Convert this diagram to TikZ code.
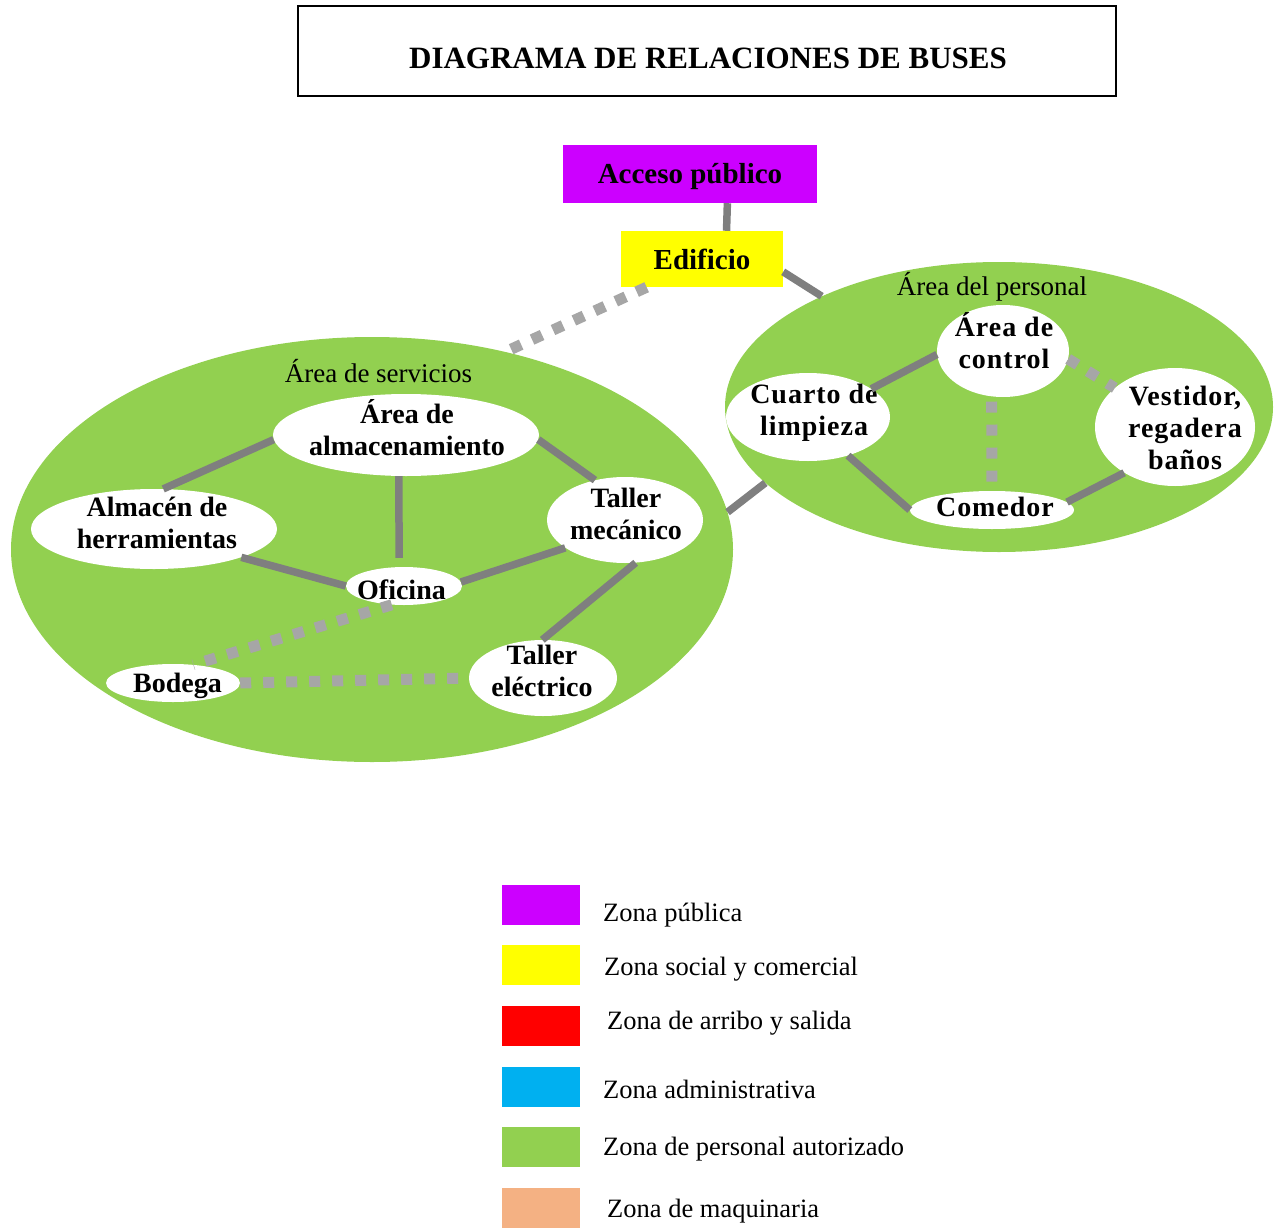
\documentclass[tikz,border=0pt]{standalone}
\usepackage{fontspec}
\setmainfont{Liberation Serif}
\newfontfamily\spacedfont[LetterSpace=3.5]{Liberation Serif}
\usetikzlibrary{shapes.geometric}
\definecolor{zpub}{HTML}{CC00FF}
\definecolor{zsoc}{HTML}{FFFF00}
\definecolor{zarr}{HTML}{FF0000}
\definecolor{zadm}{HTML}{00B0F0}
\definecolor{zper}{HTML}{92D050}
\definecolor{zmaq}{HTML}{F4B183}
\definecolor{cgray}{HTML}{7F7F7F}
\definecolor{dgray}{HTML}{A6A6A6}
\begin{document}
\begin{tikzpicture}[x=1pt,y=-1pt,
  conn/.style={draw=cgray, line width=7.5pt},
  dots/.style={draw=dgray, line width=11pt, dash pattern=on 11pt off 12pt},
  zone/.style={ellipse, fill=zper, inner sep=0pt},
  wnode/.style={ellipse, fill=white, inner sep=0pt},
  lbl/.style={font=\bfseries\fontsize{28}{32}\selectfont, align=center, inner sep=0pt},
  slbl/.style={font=\spacedfont\bfseries\fontsize{28}{32}\selectfont, align=center, inner sep=0pt},
  zlbl/.style={font=\fontsize{27}{31}\selectfont, inner sep=0pt},
  leg/.style={minimum width=78pt, minimum height=40pt, inner sep=0pt},
  legt/.style={font=\fontsize{26.5}{30}\selectfont, anchor=base west, inner sep=0pt}]
\useasboundingbox (0,0) rectangle (1274,1228);

% title
\node[draw, line width=1.5pt, minimum width=818pt, minimum height=90pt, inner sep=0pt] (tbox) at (707,51) {};
\node[font=\bfseries\fontsize{31}{36}\selectfont, inner sep=0pt] (title) at (708,58) {DIAGRAMA DE RELACIONES DE BUSES};

% top boxes
\node[fill=zpub, minimum width=254pt, minimum height=58pt, inner sep=0pt] (acc) at (690,174) {};
\node[font=\bfseries\fontsize{29}{33}\selectfont, inner sep=0pt] (accT) at (690,177) {Acceso público};
\node[fill=zsoc, minimum width=162pt, minimum height=56pt, inner sep=0pt, font=\bfseries\fontsize{29}{33}\selectfont] (edif) at (702,259) {Edificio};

% zones
\node[zone, minimum width=722pt, minimum height=425pt] (serv) at (372,549.5) {};
\node[zone, minimum width=548pt, minimum height=290pt] (pers) at (999,407) {};
\node[zlbl] (servT) at (378.5,371) {Área de servicios};
\node[zlbl] (persT) at (992,286.5) {Área del personal};

% service nodes
\node[wnode, minimum width=266pt, minimum height=82pt] (alm) at (406,435) {};
\node[wnode, minimum width=246pt, minimum height=80pt] (almh) at (154,529) {};
\node[wnode, minimum width=156pt, minimum height=86pt] (tmec) at (625,520) {};
\node[wnode, minimum width=116pt, minimum height=38pt] (ofi) at (404,586) {};
\node[wnode, minimum width=134pt, minimum height=38pt] (bod) at (173,683) {};
\node[wnode, minimum width=148pt, minimum height=76pt] (tele) at (543,678) {};

\node[lbl] (almT) at (407,428) {Área de\\almacenamiento};
\node[lbl] (almhT) at (157,523) {Almacén de\\herramientas};
\node[lbl] (tmecT) at (626,514) {Taller\\mecánico};
\node[lbl] (ofiT) at (401.5,589.5) {Oficina};
\node[lbl] (bodT) at (177.5,685.5) {Bodega};
\node[lbl] (teleT) at (542,670.5) {Taller\\eléctrico};

% personal nodes
\node[wnode, minimum width=132pt, minimum height=92pt] (ctl) at (1003,351) {};
\node[wnode, minimum width=164pt, minimum height=88pt] (cua) at (808,417) {};
\node[wnode, minimum width=160pt, minimum height=118pt] (ves) at (1175,427) {};
\node[wnode, minimum width=164pt, minimum height=38pt] (com) at (992,510) {};

\node[slbl] (ctlT) at (1004,341) {Área de\\control};
\node[slbl] (cuaT) at (814,412.5) {Cuarto de\\limpieza};
\node[slbl] (vesT) at (1185,427.5) {Vestidor,\\regadera\\baños};
\node[slbl] (comT) at (995,507) {Comedor};

% connectors
\draw[conn] (acc.-38.9) -- (edif.49.4);
\draw[conn] (edif.-9.1) -- (pers.148.9);
\draw[dots] (edif.207.4) -- (serv.56);
\draw[conn] (serv.6.9) -- (pers.198.07);

\draw[conn] (alm.182.6) -- (almh.77.6);
\draw[conn, shorten >=9pt] (alm.260.3) -- (ofi.104.7);
\draw[conn] (alm.-2.1) -- (tmec.127.1);
\draw[conn] (almh.-18.2) -- (ofi.180);
\draw[conn] (ofi.4.8) -- (tmec.205.5);
\draw[conn] (tmec.-76.8) -- (tele.91.4);
\draw[dots] (ofi.237.7) -- (bod.42.6);
\draw[dots] (bod.east) -- (tele.west);

\draw[conn] (cua.24.7) -- (ctl.183.5);
\draw[dots, shorten <=5pt, shorten >=4pt] (ctl.256.6) -- (com.90);
\draw[dots] (ctl.-7.65) -- (ves.147);
\draw[conn] (cua.-44.3) -- (com.180);
\draw[conn] (com.6.3) -- (ves.222.3);

% legend
\node[leg, fill=zpub] (l1) at (541,905) {};
\node[leg, fill=zsoc] (l2) at (541,965) {};
\node[leg, fill=zarr] (l3) at (541,1026) {};
\node[leg, fill=zadm] (l4) at (541,1087) {};
\node[leg, fill=zper] (l5) at (541,1147) {};
\node[leg, fill=zmaq] (l6) at (541,1207.5) {};
\node[legt] (t1) at (603,921) {Zona pública};
\node[legt] (t2) at (604,975) {Zona social y comercial};
\node[legt] (t3) at (607,1029) {Zona de arribo y salida};
\node[legt] (t4) at (603,1098) {Zona administrativa};
\node[legt] (t5) at (603,1155) {Zona de personal autorizado};
\node[legt] (t6) at (607,1217) {Zona de maquinaria};
\end{tikzpicture}
\end{document}
